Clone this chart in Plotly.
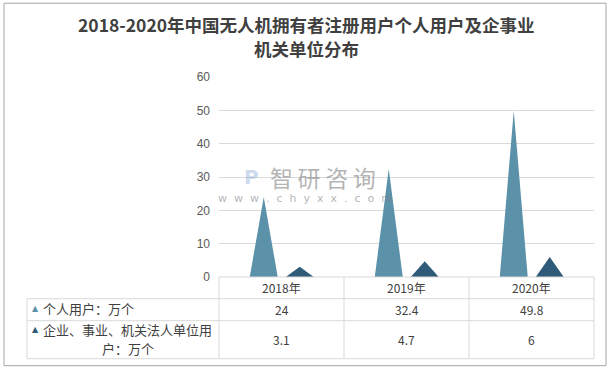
import plotly.graph_objects as go

categories = ["2018年", "2019年", "2020年"]
series_names = ["个人用户：万个", "企业、事业、机关法人单位用", "户：万个"]
personal = [24, 32.4, 49.8]
enterprise = [3.1, 4.7, 6]
value_labels = [["24", "32.4", "49.8"], ["3.1", "4.7", "6"]]
colors = ["#5B91A9", "#2F5B78"]
y_ticks = [0, 10, 20, 30, 40, 50, 60]

W, H = 613, 371
L, R, T, B = 219, 594, 77.3, 277.3

def px(x):
    return (x - L) / (R - L)

def py(y):
    return (B - y) / (B - T)

fig = go.Figure()

offsets = [-0.142, 0.146]
half_w = 0.112
for s, (vals, col) in enumerate(zip([personal, enterprise], colors)):
    xs, ys = [], []
    for i, v in enumerate(vals):
        c = i + offsets[s]
        xs += [c - half_w, c, c + half_w, None]
        ys += [0, v, 0, None]
    fig.add_trace(go.Scatter(x=xs, y=ys, fill="toself", fillcolor=col, mode="lines",
                             line=dict(width=0, color=col), showlegend=False, hoverinfo="skip"))

shapes = []
line_col = "#D9D9D9"
def hline(x0, x1, y):
    shapes.append(dict(type="line", xref="paper", yref="paper", x0=px(x0), x1=px(x1),
                       y0=py(y), y1=py(y), line=dict(color=line_col, width=1)))
def vline(x, y0, y1):
    shapes.append(dict(type="line", xref="paper", yref="paper", x0=px(x), x1=px(x),
                       y0=py(y0), y1=py(y1), line=dict(color=line_col, width=1)))

col_edges = [219, 344, 469, 594]
hline(219, 594, 277.3)
for yy in [299, 321, 359]:
    hline(27, 594, yy)
for xx in col_edges:
    vline(xx, 277.3, 359)
vline(27, 299, 359)
# outer frame
shapes.append(dict(type="rect", xref="paper", yref="paper", x0=px(4), x1=px(606), y0=py(3.5), y1=py(366),
                   line=dict(color="#A6A6A6", width=1), fillcolor="rgba(0,0,0,0)"))

ann = []
txt_col = "#404040"
font = "Noto Sans CJK SC"

def add_text(x, y, text, size, color=txt_col, family=font, xanchor="center", **kw):
    ann.append(dict(x=px(x), y=py(y), xref="paper", yref="paper", text=text, showarrow=False,
                    xanchor=xanchor, yanchor="middle",
                    font=dict(size=size, color=color, family=family), **kw))

for i, c in enumerate(categories):
    cx = (col_edges[i] + col_edges[i + 1]) / 2
    add_text(cx, 288, c, 12)
    add_text(cx, 310, value_labels[0][i], 12)
    add_text(cx, 340, value_labels[1][i], 12)

# row labels with legend markers
add_text(30, 309, "▲", 8, color=colors[0], family="DejaVu Sans", xanchor="left")
add_text(41, 309, series_names[0], 13, xanchor="left")
add_text(30, 330, "▲", 8, color=colors[1], family="DejaVu Sans", xanchor="left")
add_text(41, 330, series_names[1], 13, xanchor="left")
add_text(128, 349, series_names[2], 13)

# title
add_text(306, 24.5, "<b>2018-2020年中国无人机拥有者注册用户个人用户及企事业</b>", 17.5)
add_text(306, 48.5, "<b>机关单位分布</b>", 17.5)

# watermark
add_text(323, 177, "智\u2009研\u2009咨\u2009询", 23, color="rgba(130,130,130,0.6)")
add_text(305, 199, "w\u00a0 w\u00a0 w\u00a0 .\u00a0 c\u00a0 h\u00a0 y\u00a0 x\u00a0 x\u00a0 .\u00a0 c\u00a0 o\u00a0 m",
         11, color="rgba(130,130,130,0.6)", family="DejaVu Sans")
add_text(251, 177, "<b>P</b>", 20, color="rgba(120,160,210,0.4)", family="DejaVu Sans")

fig.update_layout(
    width=W, height=H,
    margin=dict(l=L, r=W - R, t=T, b=H - B),
    paper_bgcolor="white", plot_bgcolor="white",
    xaxis=dict(range=[-0.5, 2.5], showgrid=False, zeroline=False, showticklabels=False, showline=False,
               fixedrange=True),
    yaxis=dict(range=[0, 60], tickvals=y_ticks, showgrid=True, gridcolor="#D9D9D9", gridwidth=1,
               zeroline=False, showline=False, ticklabelstandoff=8,
               tickfont=dict(size=12, color="#595959", family="Liberation Sans")),
    shapes=shapes, annotations=ann, showlegend=False,
)

fig.write_html("out.html", config={"displayModeBar": False},
               post_script="document.body.style.margin='0';document.body.style.overflow='hidden';")
